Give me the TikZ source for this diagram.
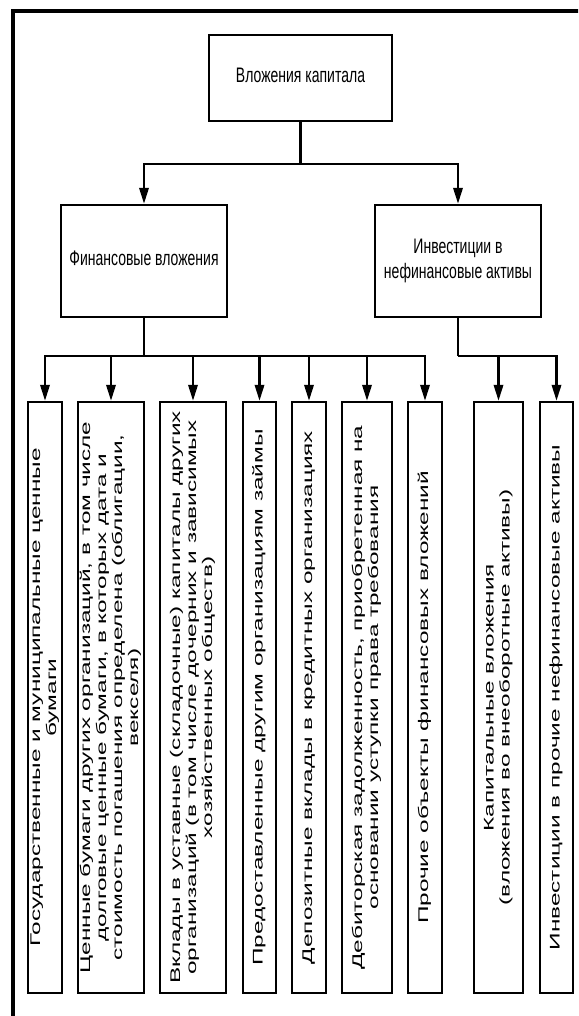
\documentclass[tikz,border=0pt]{standalone}
\usepackage{fontspec}
\setmainfont{Liberation Sans}
\usepackage{graphicx}
\usetikzlibrary{arrows.meta}
\newcommand\hstr[1]{\scalebox{1}[1.5]{\begin{tabular}{@{}c@{}}#1\end{tabular}}}
\newcommand\vstr[1]{\makebox[0pt]{\scalebox{1}[1.74]{\rotatebox{90}{\begin{tabular}{@{}c@{}}#1\end{tabular}}}}}
\begin{document}
\begin{tikzpicture}[x=0.75pt,y=-0.75pt,
  box/.style={draw, line width=1.8pt, inner sep=0pt, font=\fontsize{10.5pt}{12.5pt}\selectfont},
  vbox/.style={draw, line width=1.8pt, inner sep=0pt, minimum height=443.25pt, font=\fontsize{10.5pt}{12pt}\selectfont},
  conn/.style={line width=1.8pt},
  arr/.style={line width=1.8pt, -{Triangle[length=12pt,width=7pt]}},
  frame/.style={line width=3pt}]
\useasboundingbox (0,0) rectangle (578,1016);
\clip (0,0) rectangle (578,1016);
\draw[frame] (13,11) rectangle (640,1100);
% top level
\node[box, minimum width=137.25pt, minimum height=64.5pt] (A) at (300.5,78) {\hstr{Вложения капитала}};
\node[box, minimum width=124.5pt, minimum height=84pt] (F) at (144,261) {\hstr{Финансовые вложения}};
\node[box, minimum width=124.5pt, minimum height=84pt] (N) at (458,261) {\hstr{Инвестиции в\\нефинансовые активы}};
% bottom boxes
\node[vbox, minimum width=25.5pt] (b1) at (45,697.5) {\vstr{Государственные и муниципальные ценные\\бумаги}};
\node[vbox, minimum width=49.5pt] (b2) at (111,697.5) {\vstr{Ценные бумаги других организаций, в том числе\\долговые ценные бумаги, в которых дата и\\стоимость погашения определена (облигации,\\векселя)}};
\node[vbox, minimum width=49.5pt] (b3) at (193,697.5) {\vstr{Вклады в уставные (складочные) капиталы других\\организаций (в том числе дочерних и зависимых\\хозяйственных обществ)}};
\node[vbox, minimum width=24.75pt] (b4) at (259.5,697.5) {\vstr{Предоставленные другим организациям займы}};
\node[vbox, minimum width=25.5pt] (b5) at (309,697.5) {\vstr{Депозитные вклады в кредитных организациях}};
\node[vbox, minimum width=37.5pt] (b6) at (367,697.5) {\vstr{Дебиторская задолженность, приобретенная на\\основании уступки права требования}};
\node[vbox, minimum width=25.5pt] (b7) at (425,697.5) {\vstr{Прочие объекты финансовых вложений}};
\node[vbox, minimum width=36.75pt] (b8) at (498.5,697.5) {\vstr{Капитальные вложения\\(вложения во внеоборотные активы)}};
\node[vbox, minimum width=24.75pt] (b9) at (556.5,697.5) {\vstr{Инвестиции в прочие нефинансовые активы}};
% connectors
\coordinate (bus0) at (300.5,164);
\coordinate (busF) at (144,356);
\coordinate (busN) at (458,356);
\draw[conn] (A.south) -- (bus0);
\draw[arr] (bus0) -| (F.north);
\draw[arr] (bus0) -| (N.north);
\draw[conn] (F.south) -- (busF);
\foreach \b in {b1,b2,b3,b4,b5,b6,b7} \draw[arr] (busF) -| (\b.north);
\draw[conn] (N.south) -- (busN);
\foreach \b in {b8,b9} \draw[arr] (busN) -| (\b.north);
\end{tikzpicture}
\end{document}
